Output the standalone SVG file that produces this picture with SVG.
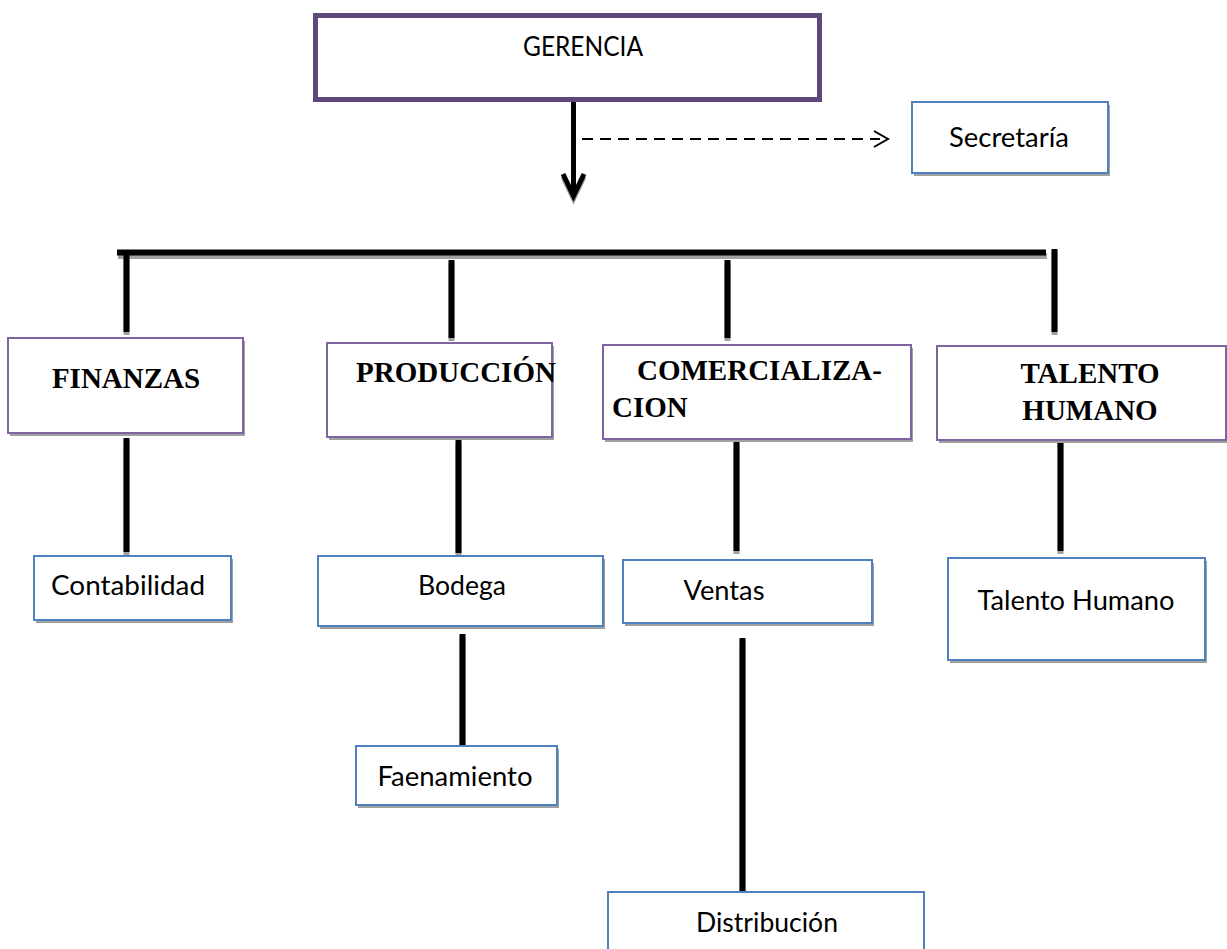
<svg xmlns="http://www.w3.org/2000/svg" width="1227" height="949" viewBox="0 0 1227 949">
  <style>
    .bg { fill: #ffffff; }
    .shadow { fill: #a0a0a0; }
    .top { fill: #ffffff; stroke: #5f497a; stroke-width: 5; }
    .dept { fill: #ffffff; stroke: #8064a2; stroke-width: 2; }
    .unit { fill: #ffffff; stroke: #4f81bd; stroke-width: 2; }
    .sans { font-family: Lato, "Open Sans", "Liberation Sans", sans-serif; font-size: 27px; fill: #000000; }
    .serif { font-family: "Liberation Serif", "Times New Roman", serif; font-weight: bold; font-size: 29px; fill: #000000; }
    .wire { stroke: #000000; stroke-width: 6; fill: none; }
    .wire-sh { stroke: #a0a0a0; stroke-width: 6; fill: none; }
    .dash { stroke: #000000; stroke-width: 2; fill: none; stroke-dasharray: 11 7; }
    .tip { stroke: #000000; stroke-width: 2; fill: none; }
  </style>

  <rect class="bg" x="0" y="0" width="1227" height="949"/>

  <!-- connectors -->
  <g id="connectors">
    <!-- shadows -->
    <g class="wire-sh">
      <line x1="118" y1="256" x2="1047" y2="256"/>
      <line x1="126.5" y1="253" x2="126.5" y2="335"/>
      <line x1="451.5" y1="263" x2="451.5" y2="341"/>
      <line x1="727.5" y1="263" x2="727.5" y2="341"/>
      <line x1="1054.5" y1="252" x2="1054.5" y2="335"/>
      <line x1="126.5" y1="441" x2="126.5" y2="555"/>
      <line x1="458.5" y1="443" x2="458.5" y2="556"/>
      <line x1="736.5" y1="443" x2="736.5" y2="554"/>
      <line x1="1060.5" y1="442" x2="1060.5" y2="554"/>
      <line x1="462.5" y1="637" x2="462.5" y2="749"/>
      <line x1="742.5" y1="641" x2="742.5" y2="894"/>
    </g>
    <g class="wire">
      <line x1="117" y1="252.5" x2="1046" y2="252.5"/>
      <line x1="126.5" y1="250" x2="126.5" y2="332"/>
      <line x1="451.5" y1="260" x2="451.5" y2="338"/>
      <line x1="727.5" y1="260" x2="727.5" y2="338"/>
      <line x1="1054.5" y1="249" x2="1054.5" y2="332"/>
      <line x1="126.5" y1="438" x2="126.5" y2="552"/>
      <line x1="458.5" y1="440" x2="458.5" y2="553"/>
      <line x1="736.5" y1="440" x2="736.5" y2="551"/>
      <line x1="1060.5" y1="439" x2="1060.5" y2="551"/>
      <line x1="462.5" y1="634" x2="462.5" y2="746"/>
      <line x1="742.5" y1="638" x2="742.5" y2="891"/>
    </g>
    <!-- downward arrow from the top box -->
    <line x1="573.5" y1="102" x2="573.5" y2="195" stroke="#000000" stroke-width="5"/>
    <polyline points="563,174 573.5,196 584,174" fill="none" stroke="#a0a0a0" stroke-width="5" transform="translate(0,3)"/>
    <polyline points="563,174 573.5,196 584,174" fill="none" stroke="#000000" stroke-width="5"/>
    <!-- dashed link to the assistant -->
    <line class="dash" x1="582" y1="139" x2="880" y2="139"/>
    <polyline class="tip" points="874,131 888,139 874,147"/>
  </g>

  <g id="gerencia">
    <rect class="top" x="315.5" y="15.5" width="504" height="84"/>
    <text class="sans" x="583" y="56" text-anchor="middle" textLength="120" lengthAdjust="spacingAndGlyphs">GERENCIA</text>
  </g>

  <g id="secretaria">
    <rect class="shadow" x="914" y="105" width="196" height="71"/>
    <rect class="unit" x="912" y="102" width="196" height="71"/>
    <text class="sans" x="1009" y="147" text-anchor="middle" textLength="120" lengthAdjust="spacingAndGlyphs">Secretaría</text>
  </g>

  <g id="finanzas">
    <rect class="shadow" x="10" y="341" width="235" height="95"/>
    <rect class="dept" x="8" y="338" width="235" height="95"/>
    <text class="serif" x="126" y="388" text-anchor="middle">FINANZAS</text>
  </g>

  <g id="produccion">
    <rect class="shadow" x="329" y="346" width="225" height="94"/>
    <rect class="dept" x="327" y="343" width="225" height="94"/>
    <text class="serif" x="456" y="382" text-anchor="middle">PRODUCCIÓN</text>
  </g>

  <g id="comercializacion">
    <rect class="shadow" x="605" y="348" width="308" height="94"/>
    <rect class="dept" x="603" y="345" width="308" height="94"/>
    <text class="serif" x="637" y="380">COMERCIALIZA-</text>
    <text class="serif" x="612" y="417">CION</text>
  </g>

  <g id="talento">
    <rect class="shadow" x="939" y="349" width="290" height="94"/>
    <rect class="dept" x="937" y="346" width="289" height="94"/>
    <text class="serif" x="1090" y="383" text-anchor="middle">TALENTO</text>
    <text class="serif" x="1090" y="420" text-anchor="middle">HUMANO</text>
  </g>

  <g id="contabilidad">
    <rect class="shadow" x="36" y="559" width="197" height="64"/>
    <rect class="unit" x="34" y="556" width="197" height="64"/>
    <text class="sans" x="128" y="595" text-anchor="middle" textLength="154" lengthAdjust="spacingAndGlyphs">Contabilidad</text>
  </g>

  <g id="bodega">
    <rect class="shadow" x="320" y="559" width="285" height="70"/>
    <rect class="unit" x="318" y="556" width="285" height="70"/>
    <text class="sans" x="462" y="595" text-anchor="middle" textLength="88" lengthAdjust="spacingAndGlyphs">Bodega</text>
  </g>

  <g id="ventas">
    <rect class="shadow" x="625" y="563" width="249" height="63"/>
    <rect class="unit" x="623" y="560" width="249" height="63"/>
    <text class="sans" x="724" y="600" text-anchor="middle" textLength="81" lengthAdjust="spacingAndGlyphs">Ventas</text>
  </g>

  <g id="talento-humano">
    <rect class="shadow" x="950" y="561" width="257" height="102"/>
    <rect class="unit" x="948" y="558" width="257" height="102"/>
    <text class="sans" x="1076" y="610" text-anchor="middle" textLength="197" lengthAdjust="spacingAndGlyphs">Talento Humano</text>
  </g>

  <g id="faenamiento">
    <rect class="shadow" x="358" y="749" width="201" height="59"/>
    <rect class="unit" x="356" y="746" width="201" height="59"/>
    <text class="sans" x="455" y="786" text-anchor="middle" textLength="155" lengthAdjust="spacingAndGlyphs">Faenamiento</text>
  </g>

  <g id="distribucion">
    <rect class="unit" x="608" y="892" width="316" height="70"/>
    <text class="sans" x="767" y="932" text-anchor="middle" textLength="142" lengthAdjust="spacingAndGlyphs">Distribución</text>
  </g>
</svg>
